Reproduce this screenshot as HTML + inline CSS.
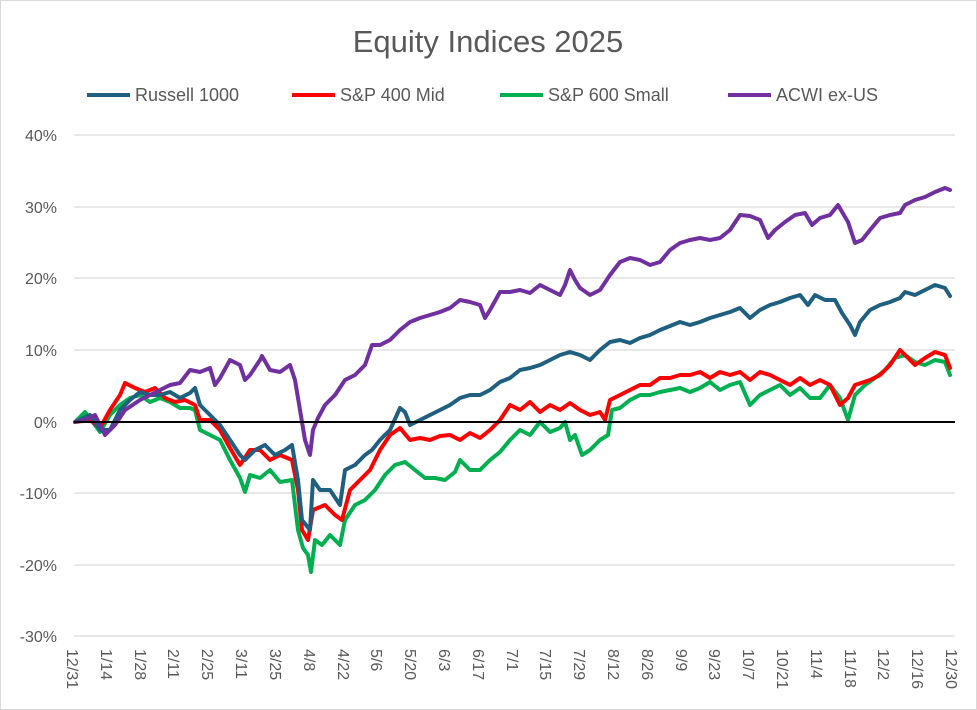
<!DOCTYPE html>
<html><head><meta charset="utf-8"><style>
html,body{margin:0;padding:0;background:#fff}
svg{display:block;font-family:"Liberation Sans",Arial,sans-serif}
</style></head><body>
<svg width="977" height="710" viewBox="0 0 977 710" xmlns="http://www.w3.org/2000/svg">
<rect x="0.5" y="0.5" width="976" height="709" fill="#fff" stroke="#d9d9d9"/>
<text x="488" y="52" text-anchor="middle" font-size="31" fill="#595959">Equity Indices 2025</text>
<g font-size="18" fill="#595959">
<line x1="87" y1="95" x2="130" y2="95" stroke="#1f5f7f" stroke-width="4"/><text x="135" y="101">Russell 1000</text>
<line x1="292" y1="95" x2="335" y2="95" stroke="#ff0000" stroke-width="4"/><text x="340" y="101">S&amp;P 400 Mid</text>
<line x1="500" y1="95" x2="543" y2="95" stroke="#00b050" stroke-width="4"/><text x="548" y="101">S&amp;P 600 Small</text>
<line x1="728" y1="95" x2="771" y2="95" stroke="#7030a0" stroke-width="4"/><text x="776" y="101">ACWI ex-US</text>
</g>
<g stroke="#d9d9d9" stroke-width="1.3">
<line x1="74" y1="135" x2="955" y2="135"/><line x1="74" y1="207" x2="955" y2="207"/>
<line x1="74" y1="278" x2="955" y2="278"/><line x1="74" y1="350" x2="955" y2="350"/>
<line x1="74" y1="493" x2="955" y2="493"/><line x1="74" y1="565" x2="955" y2="565"/>
<line x1="74" y1="636" x2="955" y2="636"/>
</g>
<g font-size="16" fill="#595959" text-anchor="end">
<text x="57" y="141">40%</text><text x="57" y="213">30%</text><text x="57" y="284">20%</text>
<text x="57" y="356">10%</text><text x="57" y="428">0%</text><text x="57" y="499">-10%</text>
<text x="57" y="571">-20%</text><text x="57" y="642">-30%</text>
</g>
<g font-size="16" fill="#595959">
<text transform="translate(67,649) rotate(90)">12/31</text>
<text transform="translate(101,649) rotate(90)">1/14</text>
<text transform="translate(135,649) rotate(90)">1/28</text>
<text transform="translate(168,649) rotate(90)">2/11</text>
<text transform="translate(202,649) rotate(90)">2/25</text>
<text transform="translate(236,649) rotate(90)">3/11</text>
<text transform="translate(270,649) rotate(90)">3/25</text>
<text transform="translate(304,649) rotate(90)">4/8</text>
<text transform="translate(338,649) rotate(90)">4/22</text>
<text transform="translate(371,649) rotate(90)">5/6</text>
<text transform="translate(405,649) rotate(90)">5/20</text>
<text transform="translate(439,649) rotate(90)">6/3</text>
<text transform="translate(473,649) rotate(90)">6/17</text>
<text transform="translate(507,649) rotate(90)">7/1</text>
<text transform="translate(540,649) rotate(90)">7/15</text>
<text transform="translate(574,649) rotate(90)">7/29</text>
<text transform="translate(608,649) rotate(90)">8/12</text>
<text transform="translate(642,649) rotate(90)">8/26</text>
<text transform="translate(676,649) rotate(90)">9/9</text>
<text transform="translate(709,649) rotate(90)">9/23</text>
<text transform="translate(743,649) rotate(90)">10/7</text>
<text transform="translate(777,649) rotate(90)">10/21</text>
<text transform="translate(811,649) rotate(90)">11/4</text>
<text transform="translate(845,649) rotate(90)">11/18</text>
<text transform="translate(878,649) rotate(90)">12/2</text>
<text transform="translate(912,649) rotate(90)">12/16</text>
<text transform="translate(946,649) rotate(90)">12/30</text>
</g>
<g fill="none" stroke-width="4" stroke-linejoin="round" stroke-linecap="round">
<polyline stroke="#00b050" points="75,422 85,412 95,425 100,432 110,415 120,405 130,398 140,395 150,402 160,398 170,402 180,408 190,408 195,410 200,430 210,435 220,440 230,460 240,478 245,492 250,475 260,478 270,470 280,482 292,480 298,530 303,548 308,555 311,572 315,540 322,545 330,535 340,545 345,520 355,505 365,500 375,490 385,475 395,465 405,462 415,470 425,478 435,478 445,480 455,472 460,460 470,470 480,470 490,460 500,452 510,440 520,430 530,435 540,422 550,432 560,428 565,422 570,440 575,435 582,455 590,450 600,440 608,435 612,410 620,408 630,400 640,395 650,395 660,392 670,390 680,388 690,392 700,388 710,382 720,390 730,385 740,382 750,405 760,395 770,390 780,385 790,395 800,388 810,398 820,398 830,385 840,398 848,420 855,395 865,385 875,378 885,370 895,358 905,355 915,362 925,365 935,360 945,362 950,375"/>
<polyline stroke="#ff0000" points="75,422 90,420 100,428 110,410 120,395 125,383 135,388 145,392 155,388 165,398 175,402 185,400 195,405 200,420 210,420 220,430 230,448 240,465 250,450 260,450 270,460 280,455 292,460 298,490 302,530 308,540 313,510 325,505 335,515 342,520 350,490 360,480 370,470 380,450 390,435 400,428 410,440 420,438 430,440 440,436 450,435 460,440 470,433 480,438 490,430 500,420 510,405 520,410 530,402 540,412 550,405 560,410 570,403 580,410 590,415 600,412 605,420 610,400 620,395 630,390 640,385 650,385 660,378 670,378 680,375 690,375 700,372 710,378 720,372 730,375 740,372 750,380 760,372 770,375 780,380 790,385 800,378 810,385 820,380 830,385 840,405 848,398 855,385 870,380 880,375 890,365 900,350 905,355 915,365 925,358 935,352 945,355 950,368"/>
<polyline stroke="#1f5f7f" points="75,422 90,415 100,430 110,430 120,410 130,400 140,392 150,395 160,395 170,392 180,398 190,393 195,388 200,405 210,415 220,425 230,440 240,455 245,460 255,450 265,445 275,455 285,450 292,445 298,480 302,520 310,530 313,480 320,490 330,490 340,505 345,470 355,465 365,455 372,450 380,440 390,430 400,408 405,412 410,425 420,420 430,415 440,410 450,405 460,398 470,395 480,395 490,390 500,382 510,378 520,370 530,368 540,365 550,360 560,355 570,352 580,355 590,360 600,350 610,342 620,340 630,343 640,338 650,335 660,330 670,326 680,322 690,325 700,322 710,318 720,315 730,312 740,308 750,318 760,310 770,305 780,302 790,298 800,295 808,305 815,295 825,300 835,300 842,313 850,325 855,335 860,322 870,310 880,305 890,302 900,298 905,292 915,295 925,290 935,285 945,288 950,296"/>
<polyline stroke="#7030a0" points="75,422 85,420 95,415 105,435 115,425 125,410 140,400 150,395 160,390 170,385 180,383 190,370 200,372 210,368 215,385 220,378 230,360 240,365 245,380 250,375 260,360 262,356 270,370 280,372 290,365 295,380 300,410 305,440 310,455 313,430 318,418 325,405 335,395 345,380 355,375 365,365 372,345 380,345 390,340 400,330 410,322 420,318 430,315 440,312 450,308 460,300 470,302 480,305 485,318 490,310 500,292 510,292 520,290 530,293 540,285 550,290 560,295 565,285 570,270 575,280 580,288 590,295 600,290 610,275 620,262 630,258 640,260 650,265 660,262 670,250 680,243 690,240 700,238 710,240 720,238 730,230 740,215 750,216 760,220 768,238 775,230 785,222 795,215 805,213 812,225 820,218 830,215 838,205 848,222 855,243 862,240 870,230 880,218 890,215 900,213 905,205 915,200 925,197 935,192 945,188 950,190"/>
</g>
<line x1="74" y1="422" x2="955" y2="422" stroke="#000" stroke-width="2"/>
</svg>
</body></html>
